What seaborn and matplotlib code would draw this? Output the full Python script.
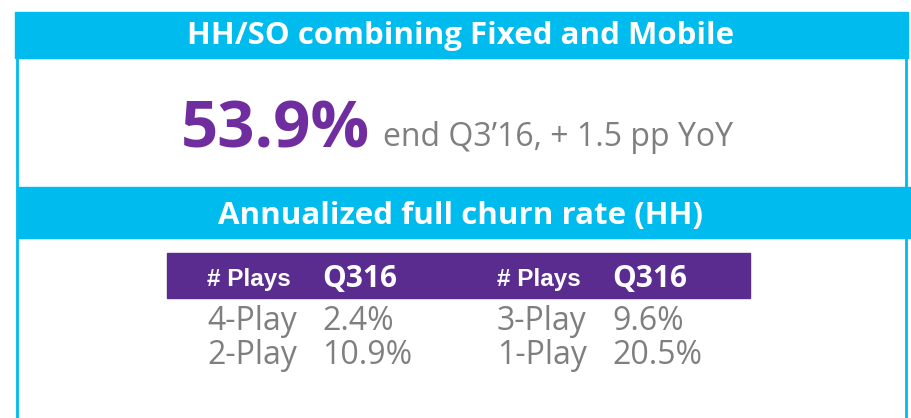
import seaborn as sns
import matplotlib.pyplot as plt
from matplotlib.patches import Rectangle

# data
title_top = "HH/SO combining Fixed and Mobile"
kpi_value = "53.9%"
kpi_note = "end Q3\u201916, + 1.5 pp YoY"
title_churn = "Annualized full churn rate (HH)"
plays_left = ["4-Play", "2-Play"]
churn_left = [2.4, 10.9]
plays_right = ["3-Play", "1-Play"]
churn_right = [9.6, 20.5]
col_labels = ["# Plays", "Q316"]

sns.set_theme(style="white")
plt.rcParams['font.family'] = ['Open Sans', 'DejaVu Sans']

cyan = "#00BBED"
purple = "#6F2DA0"
table_purple = "#5B2C8F"
grey = "#7F7F7F"

fig = plt.figure(figsize=(9.12, 4.18), dpi=100)
ax = fig.add_axes([0, 0, 1, 1])
ax.set_xlim(0, 912)
ax.set_ylim(418, 0)
ax.axis("off")

# frame lines and header bars
ax.plot([17, 17], [58, 418], color=cyan, lw=2)
ax.plot([906, 906], [58, 418], color=cyan, lw=2)
ax.add_patch(Rectangle((15, 12), 893, 46, color=cyan))
ax.add_patch(Rectangle((17, 187), 893, 51, color=cyan))
ax.text(461, 44, title_top, color="white", fontsize=22.5, fontweight="bold",
        ha="center", va="baseline")
ax.text(461, 224, title_churn, color="white", fontsize=22.5, fontweight="bold",
        ha="center", va="baseline")

# KPI
ax.text(370, 148, kpi_value, color=purple, fontsize=47, fontweight="bold",
        ha="right", va="baseline")
ax.text(383, 146, kpi_note, color=grey, fontsize=23, ha="left", va="baseline")

# churn table
ax.add_patch(Rectangle((167, 253), 583, 45, color=table_purple))
for x0, plays, vals in [(207, plays_left, churn_left), (497, plays_right, churn_right)]:
    ax.text(x0, 286, col_labels[0], color="white", fontsize=17.5, fontweight="bold",
            family=['Liberation Sans', 'DejaVu Sans'], va="baseline")
    ax.text(x0 + 115, 287, col_labels[1], color="white", fontsize=21.5, fontweight="bold",
            va="baseline")
    for i, (p, v) in enumerate(zip(plays, vals)):
        y = 330 + i * 34
        ax.text(x0, y, p, color=grey, fontsize=23, va="baseline")
        ax.text(x0 + 115, y, f"{v:.1f}%", color=grey, fontsize=23, va="baseline")

fig.savefig("out.png", dpi=100)
